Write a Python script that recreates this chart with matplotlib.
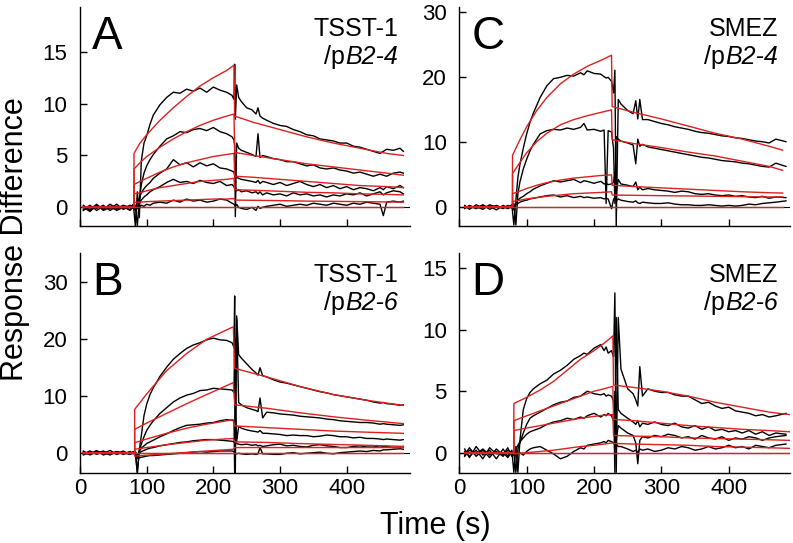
import matplotlib.pyplot as plt

plt.rcParams['font.family'] = ['Liberation Sans', 'DejaVu Sans']

# ---- time grids for the measured (black) traces ----
t_ab = [5, 15, 25, 35, 45, 55, 65, 75, 80, 83, 86, 89, 92, 96, 100, 105,
        110, 120, 130, 140, 150, 160, 170, 180, 190, 200, 210, 220,
        228, 231, 232, 233, 235, 238, 242, 250, 258, 264, 267, 270, 274, 280,
        290, 300, 310, 320, 330, 340, 350, 360, 370, 380, 390, 400,
        410, 420, 430, 440, 450, 455, 460, 470, 480, 485]
t_cd = [8, 15, 25, 35, 45, 55, 65, 72, 78, 81, 84, 87, 90, 95, 100, 105,
        110, 120, 130, 140, 150, 160, 170, 180, 185, 190, 200, 210, 215, 218, 221, 226,
        229, 231, 233, 236, 240, 250, 258, 262, 265, 268, 272, 280, 290, 300, 310, 320,
        330, 340, 350, 360, 370, 380, 390, 400, 410, 420, 430, 440, 450, 460, 470, 485]

# ---- panel A: TSST-1 / pB2-4 ----
a1 = [0.2, -0.3, 0.1, -0.2, 0.3, -0.1, 0.2, 0.0,
      0.3, -1.8, 1.5, -1.0, 4.5, 6.2, 6.9, 8.0,
      8.9, 9.9, 10.6, 11.1, 11.0, 11.4, 11.2, 11.5, 11.1, 11.6, 11.3, 11.1,
      10.8, 10.4, 13.8, 8.5, 11.8, 10.6, 10.2, 9.6,
      9.4, 9.0, 9.6, 8.8, 8.6, 8.4,
      8.1, 7.9, 7.8, 7.5, 7.3, 7.0, 6.9, 6.6, 6.5, 6.4, 6.2, 6.2,
      5.9, 5.8, 5.6, 5.4, 5.2, 5.4, 5.6, 5.5, 5.7, 5.4]
a2 = [-0.2, 0.2, -0.3, 0.1, -0.1, 0.3, -0.2, 0.1,
      -0.1, 0.2, -1.8, 0.8, 2.2, 3.3, 4.0, 4.6,
      5.1, 5.9, 6.6, 6.9, 7.3, 7.2, 7.5, 7.6, 7.4, 7.7, 7.3, 7.1,
      6.8, 6.5, 6.0, -0.9, 6.2, 5.7, 5.5, 5.3,
      5.1, 4.9, 7.1, 4.8, 5.0, 4.9,
      4.7, 4.6, 4.4, 4.4, 4.2, 4.0, 4.1, 3.8, 3.7, 3.8, 3.6, 3.5,
      3.3, 3.4, 3.2, 3.0, 3.2, 3.1, 3.0, 3.3, 3.4, 3.3]
a3 = [0.1, -0.2, 0.3, -0.3, 0.0, -0.2, 0.1, -0.3,
      0.1, 0.0, 0.4, 0.9, 1.4, 1.8, 2.1, 2.4,
      2.8, 3.3, 3.7, 4.6, 4.1, 4.3, 3.9, 4.3, 4.0, 4.2, 3.8, 3.7,
      3.5, 3.4, 3.0, 3.2, 2.9, 2.8, 2.7, 2.6,
      2.5, 2.4, 2.6, 2.3, 2.5, 2.4,
      2.2, 2.4, 2.1, 2.3, 2.5, 2.2, 2.0, 2.2, 1.9, 2.1, 1.8, 2.0,
      1.7, 1.9, 1.8, 1.6, 1.9, 1.7, 2.0, 1.8, 2.1, 1.9]
a4 = [-0.3, 0.1, -0.1, 0.2, -0.3, 0.1, -0.1, 0.2,
      0.0, 0.1, 0.0, 0.4, 0.7, 1.0, 1.2, 1.5,
      1.7, 2.0, 2.4, 2.7, 2.4, 2.5, 2.3, 2.6, 2.4, 2.3, 2.5, 2.1,
      2.2, 2.0, 1.8, 1.9, 1.6, 1.7, 1.5, 1.6,
      1.4, 1.5, 1.3, 1.5, 1.2, 1.4,
      1.2, 1.3, 1.1, 1.4, 1.2, 1.3, 1.1, 1.2, 1.0, 1.2, 1.1, 1.3,
      1.2, 1.4, 1.1, 1.3, 1.5, 1.2, 1.4, 1.6, 1.5, 1.3]
a5 = [0.0, -0.4, 0.2, -0.1, 0.1, -0.3, 0.0, -0.2,
      0.1, -0.3, -0.1, 0.0, 0.2, 0.1, 0.3, 0.2,
      0.4, 0.5, 0.4, 0.7, 0.5, 0.8, 0.6, 0.7, 0.5, 0.6, 0.8, 0.7,
      0.4, 0.3, 0.2, 0.1, 0.3, 0.0, -0.1, -0.2,
      0.0, -0.3, 0.1, -0.1, 0.0, 0.1,
      0.2, 0.3, 0.1, 0.2, 0.3, 0.2, 0.4, 0.3, 0.2, 0.4, 0.3, 0.2,
      0.4, 0.3, 0.5, 0.4, 0.3, -0.8, 0.5, 0.6, 0.5, 0.6]
a_ta = [81, 90, 100, 120, 140, 160, 180, 200, 220, 231]
a_fit_on = [[5.2, 6.2, 7.0, 8.4, 9.6, 10.7, 11.7, 12.5, 13.2, 13.7],
            [3.7, 4.3, 4.9, 5.8, 6.6, 7.3, 7.9, 8.4, 8.8, 9.0],
            [2.2, 2.5, 2.8, 3.4, 3.9, 4.3, 4.6, 4.9, 5.1, 5.2],
            [1.3, 1.4, 1.6, 1.9, 2.1, 2.3, 2.5, 2.6, 2.7, 2.8],
            [0.5, 0.5, 0.55, 0.6, 0.65, 0.7, 0.75, 0.8, 0.8, 0.85]]
a_td = [232, 260, 300, 340, 380, 420, 460, 485]
a_fit_off = [[8.8, 8.2, 7.5, 6.8, 6.2, 5.7, 5.2, 5.0],
             [5.3, 5.0, 4.6, 4.2, 3.9, 3.6, 3.3, 3.1],
             [3.0, 2.9, 2.7, 2.5, 2.3, 2.1, 2.0, 1.9],
             [1.7, 1.65, 1.55, 1.45, 1.4, 1.3, 1.25, 1.2],
             [0.7, 0.68, 0.65, 0.6, 0.58, 0.55, 0.52, 0.5]]

# ---- panel B: TSST-1 / pB2-6 ----
b1 = [0.3, -0.4, 0.2, -0.2, 0.4, -0.3, 0.1, -0.2,
      0.2, 0.0, -3.5, 0.5, 3.0, 6.5, 8.5, 10.2,
      11.4, 13.4, 15.0, 16.4, 17.4, 18.3, 18.9, 19.3, 19.8, 20.1, 19.8, 19.7,
      19.3, 18.5, 27.5, -3.5, 24.0, 17.2, 16.6, 15.6,
      14.6, 14.0, 13.6, 14.9, 13.5, 13.3,
      12.8, 12.4, 12.2, 11.9, 11.6, 11.3, 11.0, 10.7, 10.5, 10.2, 10.0, 9.8,
      9.6, 9.4, 9.2, 8.9, 8.7, 8.8, 8.6, 8.5, 8.3, 8.4]
b2 = [-0.2, 0.3, -0.3, 0.2, -0.1, 0.2, -0.3, 0.1,
      -0.2, 0.1, -3.5, 0.4, 1.5, 2.8, 3.9, 4.8,
      5.6, 6.9, 7.9, 8.9, 9.6, 10.1, 10.4, 10.9, 11.0, 11.3, 11.2, 11.1,
      11.0, 10.6, 20.0, 4.0, 23.5, 8.8, 8.4, 7.9,
      7.6, 7.4, 7.2, 9.6, 6.1, 7.1,
      7.0, 6.8, 6.7, 6.6, 6.4, 6.3, 6.2, 6.1, 5.9, 5.8, 5.6, 5.5,
      5.4, 5.3, 5.3, 5.2, 5.0, 5.1, 5.0, 4.9, 4.8, 4.9]
b3 = [0.1, -0.2, 0.4, -0.4, 0.0, -0.2, 0.3, -0.3,
      0.0, -0.2, -1.0, 0.2, 0.8, 1.2, 1.6, 1.9,
      2.2, 2.8, 3.3, 3.9, 4.4, 4.8, 4.9, 5.0, 5.2, 5.3, 5.6, 5.8,
      5.7, 5.5, -3.5, 10.0, 2.0, 4.6, 4.3, 4.0,
      3.8, 3.7, 3.6, 3.9, 3.4, 3.4,
      3.3, 3.2, 3.0, 3.1, 3.0, 3.0, 2.8, 2.9, 3.1, 3.0, 2.8, 2.8,
      2.6, 2.7, 2.5, 2.5, 2.4, 2.3, 2.4, 2.3, 2.2, 2.3]
b4 = [-0.4, 0.1, -0.1, 0.3, -0.3, 0.1, -0.2, 0.2,
      -0.1, 0.2, -0.5, 0.0, 0.2, 0.4, 0.6, 0.8,
      0.9, 1.2, 1.4, 1.6, 1.8, 1.9, 2.1, 2.2, 2.3, 2.3, 2.2, 2.1,
      2.0, 1.9, 1.7, 1.8, 1.6, 1.5, 1.4, 1.5,
      1.3, 1.4, 1.2, 1.3, 1.1, 1.2,
      1.4, 1.5, 1.2, 1.3, 1.1, 1.0, 1.3, 1.4, 1.2, 1.1, 0.9, 0.9,
      1.1, 1.2, 1.0, 1.0, 1.2, 1.1, 1.1, 0.9, 1.0, 1.1]
b5 = [0.0, -0.3, 0.2, 0.0, -0.4, 0.2, 0.0, -0.3,
      0.1, -0.2, -0.8, -0.9, -0.8, -0.7, -0.6, -0.5,
      -0.5, -0.4, -0.3, -0.2, -0.1, 0.0, 0.1, 0.2, 0.1, 0.2, 0.3, 0.3,
      0.3, 0.2, 0.0, -0.1, -0.2, -0.1, -0.2, -0.3,
      -0.2, -0.3, -0.2, 0.9, -0.2, -0.2,
      -0.3, -0.3, -0.1, 0.0, -0.2, -0.1, 0.0, 0.1, -0.1, -0.2, 0.0, 0.1,
      0.2, 0.3, 0.2, 0.4, 0.3, 0.5, 0.5, 0.6, 0.7, 0.6]
b_ta = [82, 100, 130, 160, 190, 230]
b_fit_on = [[7.6, 10.3, 14.4, 17.4, 19.9, 22.1],
            [4.1, 5.2, 6.9, 8.6, 10.2, 12.3],
            [1.75, 2.4, 3.4, 4.3, 5.0, 5.8],
            [0.6, 0.9, 1.4, 1.8, 2.2, 2.5],
            [-0.6, -0.45, -0.2, 0.05, 0.3, 0.6]]
b_td = [232, 280, 330, 380, 430, 485]
b_fit_off = [[14.8, 13.3, 11.6, 10.2, 9.2, 8.3],
             [8.4, 7.8, 7.0, 6.3, 5.7, 5.1],
             [4.7, 4.4, 4.1, 3.8, 3.6, 3.4],
             [1.9, 1.8, 1.6, 1.45, 1.3, 1.1],
             [0.9, 0.9, 0.9, 0.9, 0.9, 0.9]]

# ---- panel C: SMEZ / pB2-4 ----
c1 = [0.2, -0.4, 0.3, -0.2, 0.1, -0.5, 0.2, -0.1,
      0.3, -2.8, 1.0, 4.5, 6.5, 9.0, 11.2, 13.0,
      14.4, 16.8, 18.6, 19.7, 19.9, 20.2, 20.1, 20.6,
      20.3, 20.9, 20.5, 20.4, 20.0, 19.8, 19.9, 19.3,
      17.5, 21.0, -3.0, 16.5, 15.8, 14.8, 14.3, 16.3,
      13.5, 16.5, 13.4, 13.4, 13.1, 12.8, 12.6, 12.3,
      12.1, 11.9, 11.6, 11.4, 11.3, 11.1, 10.9, 10.8,
      10.6, 10.5, 10.3, 10.1, 10.0, 9.8, 10.4, 10.0]
c2 = [-0.3, 0.2, -0.2, 0.3, -0.4, 0.1, -0.3, 0.2,
      -0.2, 0.5, -2.8, 2.0, 3.8, 5.8, 7.3, 8.6,
      9.6, 11.2, 11.7, 11.9, 11.8, 12.1, 11.9, 12.2,
      12.8, 11.8, 11.9, 11.6, 11.8, 0.5, 11.7, 11.5,
      9.0, 0.5, 10.8, 10.4, 10.1, 9.8, 9.5, 6.6,
      10.4, 9.3, 9.6, 9.2, 9.0, 8.8, 8.6, 8.4,
      8.2, 8.0, 7.8, 7.6, 7.5, 7.3, 7.1, 7.0,
      6.9, 6.7, 6.6, 6.4, 6.2, 6.1, 6.7, 6.2]
c3 = [0.1, -0.2, 0.0, -0.4, 0.3, -0.1, 0.0, -0.3,
      0.0, -0.5, 0.5, 1.0, 1.3, 1.6, 2.0, 2.3,
      2.7, 3.2, 3.6, 4.0, 3.8, 4.0, 4.2, 3.7,
      4.0, 3.9, 3.6, 3.9, 3.5, 3.6, 3.4, 3.5,
      3.8, 5.0, 2.0, 4.2, 3.5, 3.3, 3.1, 3.8,
      2.6, 3.0, 2.6, 2.8, 2.6, 2.5, 2.4, 2.2,
      2.4, 2.3, 2.0, 1.9, 2.0, 1.8, 1.7, 1.8,
      1.6, 1.7, 1.5, 1.4, 1.6, 1.3, 1.5, 1.4]
c4 = [-0.2, 0.1, -0.3, 0.2, -0.1, 0.2, -0.2, 0.1,
      -0.1, 0.2, 0.3, 0.5, 0.7, 0.9, 1.0, 1.2,
      1.3, 1.5, 1.7, 1.8, 1.5, 1.7, 1.4, 1.6,
      1.4, 1.5, 1.3, 1.4, 1.2, 1.3, 1.2, -0.3,
      1.1, 1.5, 0.9, 1.2, 1.0, 0.8, 0.7, 0.9,
      0.6, 0.5, 0.7, 0.6, 0.5, 0.5, 0.6, 0.4,
      0.3, 0.3, 0.2, 0.2, 0.3, 0.2, 0.1, 0.2,
      0.1, 0.2, 0.4, 0.3, 0.5, 0.6, 0.7, 0.9]
c_ta = [79, 90, 100, 115, 130, 150, 170, 190, 210, 226]
c_fit_on = [[7.9, 10.3, 12.3, 14.8, 16.8, 18.9, 20.4, 21.6, 22.5, 23.3],
            [5.1, 6.8, 8.3, 10.0, 11.3, 12.6, 13.4, 14.0, 14.5, 14.9],
            [2.0, 2.4, 2.8, 3.3, 3.7, 4.1, 4.4, 4.6, 4.8, 4.9],
            [0.8, 1.0, 1.2, 1.4, 1.6, 1.8, 2.0, 2.1, 2.2, 2.3]]
c_td = [227, 260, 300, 340, 380, 420, 460, 480]
c_fit_off = [[15.4, 14.5, 13.5, 12.4, 11.3, 10.4, 9.3, 8.7],
             [10.3, 9.7, 9.1, 8.4, 7.8, 7.0, 6.2, 5.6],
             [3.3, 3.1, 2.9, 2.7, 2.5, 2.3, 2.15, 2.1],
             [1.8, 1.75, 1.7, 1.65, 1.6, 1.55, 1.5, 1.5]]

# ---- panel D: SMEZ / pB2-6 ----
d1 = [0.3, -0.4, 0.5, -0.2, 0.2, -0.5, 0.3, -0.3,
      0.2, -1.6, 0.5, -1.6, 1.0, 3.5, 4.4, 4.9,
      5.2, 5.6, 5.9, 6.4, 6.7, 7.1, 7.6, 7.9,
      8.1, 8.0, 8.5, 8.8, 8.3, 8.6, 8.1, 8.3,
      7.8, 13.0, -1.6, 11.0, 6.8, 5.2, 4.8, 4.3,
      3.8, 7.0, 4.6, 5.2, 5.0, 4.9, 4.9, 4.7,
      4.6, 4.6, 4.3, 4.0, 4.1, 3.8, 3.6, 3.7,
      3.4, 3.3, 3.2, 3.0, 3.1, 2.9, 3.0, 3.2]
d2 = [-0.2, 0.4, -0.3, 0.2, -0.4, 0.3, -0.2, 0.4,
      -0.3, 0.1, -1.6, 0.3, 0.8, 1.6, 2.3, 2.8,
      3.0, 3.3, 3.6, 3.9, 4.1, 4.2, 4.5, 4.6,
      4.8, 5.0, 4.8, 4.7, 4.8, 4.6, 4.7, 4.6,
      4.2, -1.6, 11.0, 3.5, 3.2, 2.8, 2.5, 2.3,
      2.6, 2.1, 2.4, 2.3, 2.5, 2.3, 2.2, 2.4,
      2.1, 2.0, 2.2, 1.9, 2.1, 1.8, 1.9, 1.7,
      1.8, 1.6, 1.8, 1.5, 1.7, 1.4, 1.6, 1.5]
d3 = [0.1, -0.3, 0.2, -0.5, 0.4, -0.1, 0.0, -0.4,
      0.1, -0.2, 0.3, 0.6, 0.9, 1.2, 1.5, 1.7,
      1.8, 2.0, 2.3, 2.5, 2.6, 2.8, 2.7, 2.9,
      2.8, 3.0, 3.2, 2.9, 3.1, 3.0, 3.2, 3.0,
      2.6, 5.0, 1.0, 2.2, 2.0, 1.6, 1.4, 0.8,
      -0.9, 1.0, 1.3, 1.2, 1.4, 1.3, 1.5, 1.4,
      1.2, 1.3, 1.1, 1.4, 1.2, 1.1, 1.3, 1.0,
      1.2, 1.1, 1.3, 1.2, 1.0, 1.2, 1.3, 1.4]
d4 = [-0.3, 0.2, -0.1, 0.3, -0.2, 0.1, -0.3, 0.2,
      0.0, -0.2, 0.1, -0.1, 0.0, -0.2, 0.1, 0.3,
      0.4, 0.5, 0.2, -0.1, -0.5, -0.3, 0.1, 0.4,
      0.3, 0.6, 0.7, 0.8, 0.9, 0.8, 1.0, 0.9,
      0.8, 0.6, 0.7, 0.5, 0.5, 0.3, 0.1, 0.2,
      0.0, 0.3, 0.2, 0.3, 0.1, 0.2, 0.4, 0.3,
      0.5, 0.4, 0.2, 0.3, 0.5, 0.3, 0.4, 0.6,
      0.4, 0.5, 0.3, 0.6, 0.5, 0.4, 0.6, 0.7]
d_ta = [81, 100, 120, 140, 160, 180, 200, 215, 228]
d_fit_on = [[4.0, 4.5, 5.1, 5.8, 6.7, 7.6, 8.3, 8.9, 9.5],
            [2.6, 3.0, 3.4, 3.8, 4.2, 4.6, 5.0, 5.2, 5.4],
            [1.8, 2.0, 2.2, 2.4, 2.6, 2.8, 2.95, 3.05, 3.1],
            [-0.1, 0.0, 0.1, 0.2, 0.35, 0.5, 0.6, 0.7, 0.8]]
d_td = [229, 260, 300, 340, 380, 420, 460, 490]
d_fit_off = [[5.5, 5.3, 5.0, 4.6, 4.1, 3.7, 3.3, 3.1],
             [2.7, 2.6, 2.4, 2.2, 2.05, 1.9, 1.8, 1.7],
             [1.4, 1.35, 1.3, 1.2, 1.15, 1.1, 1.05, 1.0],
             [0.75, 0.7, 0.65, 0.6, 0.5, 0.45, 0.4, 0.35]]

RED = '#dd1f1f'
W, H = 793, 543


def panel(px_box, xmax, ylim, yticks, t, traces, ta, fit_on, td, fit_off,
          letter, protein, plasmid, xlabels):
    left, top, right, bottom = px_box
    ax = fig.add_axes([left / W, 1 - bottom / H, (right - left) / W, (bottom - top) / H])
    ax.axhline(0, color='black', lw=0.8, zorder=1)
    for y in traces:
        ax.plot(t, y, color='black', lw=1.0, zorder=2)
    # fitted curves: flat baseline, association, dissociation
    ax.plot([t[0], td[-1]], [0, 0], color=RED, lw=1.0, zorder=3)
    for on, off in zip(fit_on, fit_off):
        ax.plot([t[0], ta[0]] + ta + td, [0, 0] + on + off, color=RED, lw=1.0, zorder=3)
    ax.set_xlim(0, xmax)
    ax.set_ylim(*ylim)
    ax.set_xticks([0, 100, 200, 300, 400])
    ax.set_yticks(yticks)
    ax.tick_params(direction='in', length=5, width=1, labelsize=16)
    ax.tick_params(axis='y', pad=9)
    ax.tick_params(axis='x', pad=4, labelbottom=xlabels)
    for s in ['top', 'right']:
        ax.spines[s].set_visible(False)
    for s in ['left', 'bottom']:
        ax.spines[s].set_linewidth(1.0)
    ax.annotate(letter, xy=(0, 1), xycoords='axes fraction', xytext=(12, -42),
                textcoords='offset pixels', ha='left', va='baseline', fontsize=33)
    ax.annotate(protein, xy=(1, 1), xycoords='axes fraction', xytext=(-12, -29),
                textcoords='offset pixels', ha='right', va='baseline', fontsize=18)
    it = ax.annotate(plasmid, xy=(1, 1), xycoords='axes fraction', xytext=(-12, -57),
                     textcoords='offset pixels', ha='right', va='baseline',
                     fontsize=18, style='italic')
    ax.annotate('/p', xy=(0, 0), xycoords=it, ha='right', va='bottom', fontsize=18)
    return ax


fig = plt.figure(figsize=(W / 100, H / 100), dpi=100)

panel((80, 7, 410, 225.7), 495, (-1.77, 19.32), [0, 5, 10, 15], t_ab,
      [a1, a2, a3, a4, a5], a_ta, a_fit_on, a_td, a_fit_off, 'A', 'TSST-1', 'B2-4', False)
panel((80, 252.7, 410, 472.7), 495, (-3.51, 35.09), [0, 10, 20, 30], t_ab,
      [b1, b2, b3, b4, b5], b_ta, b_fit_on, b_td, b_fit_off, 'B', 'TSST-1', 'B2-6', True)
panel((459.3, 7, 790, 225.7), 491, (-2.92, 30.72), [0, 10, 20, 30], t_cd,
      [c1, c2, c3, c4], c_ta, c_fit_on, c_td, c_fit_off, 'C', 'SMEZ', 'B2-4', False)
panel((459.3, 252.7, 790, 472.7), 491, (-1.63, 16.27), [0, 5, 10, 15], t_cd,
      [d1, d2, d3, d4], d_ta, d_fit_on, d_td, d_fit_off, 'D', 'SMEZ', 'B2-6', True)

fig.text(0.0, 1 - 239 / H, 'Response Difference', rotation=90, ha='left', va='center', fontsize=22)
fig.text(435 / W, 1 - 534 / H, 'Time (s)', ha='center', va='baseline', fontsize=22)

fig.savefig('out.png', dpi=100)
